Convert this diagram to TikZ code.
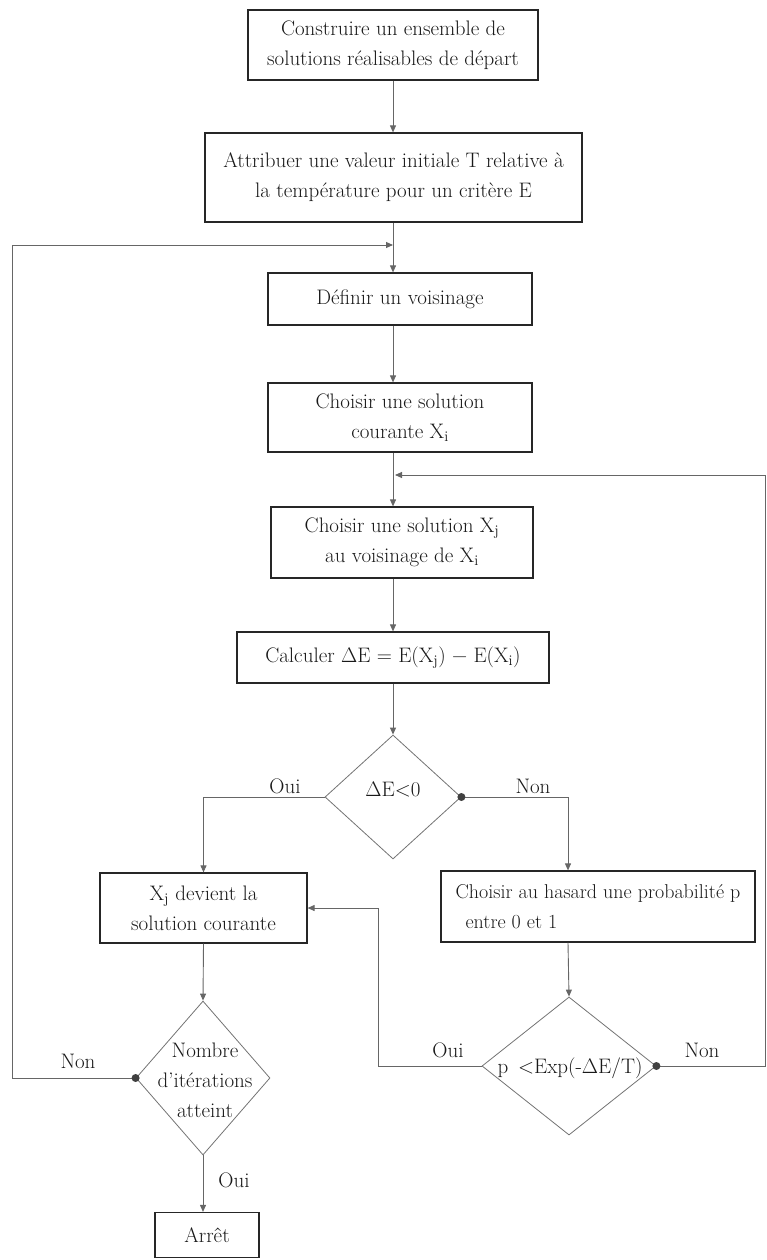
\documentclass[tikz,border=0pt]{standalone}
\usepackage{fontspec}
\usetikzlibrary{arrows.meta,shapes.geometric}
\begin{document}
\begin{tikzpicture}[x=1pt,y=-1pt,
  txt/.style={inner sep=0pt,align=center,
    font=\fontsize{21}{30}\selectfont,text=black!90},
  box/.style={txt,draw=black!85,line width=1.2pt},
  dec/.style={shape=diamond,draw=black!55,line width=0.8pt,inner sep=0pt},
  link/.style={draw=black!60,line width=0.9pt},
  arr/.style={link,-{Triangle[length=7pt,width=6pt]}},
  lab/.style={txt},
  dot/.style={fill=black!75}
]
\useasboundingbox (0,0) rectangle (767,1260);

% vertical axis of the main sequence
\coordinate (axis) at (393,0);

% process boxes
\node[box,minimum width=290pt,minimum height=70pt] (b1) at (393,45)
  {Construire un ensemble de\\solutions réalisables de départ};
\node[box,minimum width=377pt,minimum height=89pt] (b2) at (393.5,177.5)
  {Attribuer une valeur initiale T relative à\\la température pour un critère E};
\node[box,minimum width=264pt,minimum height=52pt] (b3) at (400,299)
  {Définir un voisinage};
\node[box,minimum width=264pt,minimum height=69pt] (b4) at (400,417.5)
  {Choisir une solution\\courante X\textsubscript{i}};
\node[box,minimum width=262pt,minimum height=71pt] (b5) at (402,542.5)
  {Choisir une solution X\textsubscript{j}\\au voisinage de X\textsubscript{i}};
\node[box,minimum width=312pt,minimum height=51pt] (b6) at (393,657.5)
  {Calculer ΔE = E(X\textsubscript{j}) − E(X\textsubscript{i})};
\node[box,minimum width=207pt,minimum height=70pt] (b7) at (203.5,908)
  {X\textsubscript{j} devient la\\solution courante};
\node[box,minimum width=314pt,minimum height=71pt,align=left,
      font=\fontsize{20}{30}\selectfont] (b8) at (598,906.5)
  {Choisir au hasard une probabilité p\\\hspace*{10pt}entre 0 et 1};
\node[box,minimum width=104pt,minimum height=45pt] (b9) at (207,1235)
  {Arrêt};

% decisions
\node[dec,minimum width=136pt,minimum height=124pt] (d1) at (393,797) {};
\node[txt] (t1) at (393,789) {ΔE<0};
\node[dec,minimum width=134pt,minimum height=154pt] (d2) at (203,1078) {};
\node[txt] (t2) at (205,1080) {Nombre\\d'itérations\\atteint};
\node[dec,minimum width=174pt,minimum height=138pt] (d3) at (569,1066) {};
\node[txt] (t3) at (570,1068) {p \,<Exp(-ΔE/T)};

% routing points
\coordinate (loopL) at (12,245);
\coordinate (j1) at (393,245);
\coordinate (loopR) at (765,475);
\coordinate (j2) at (395,475);
\coordinate (xr) at (568,0);
\coordinate (xm) at (378,0);

% main sequence
\draw[arr] (b1.south -| axis) -- (b2.north -| axis);
\draw[arr] (b2.south -| axis) -- (b3.north -| axis);
\draw[arr] (b3.south -| axis) -- (b4.north -| axis);
\draw[arr] (b4.south -| axis) -- (b5.north -| axis);
\draw[arr] (b5.south -| axis) -- (b6.north -| axis);
\draw[arr] (b6.south -| axis) -- (d1.north);

% first decision
\draw[arr] (d1.west) -| (b7.north);
\draw[arr] (d1.east) -| (b8.north -| xr);
\fill[dot] (d1.east) circle (4pt);
\node[lab] (l1) at (285,786) {Oui};
\node[lab] (l2) at (533,786) {Non};

% probability branch
\draw[arr] (b8.south -| xr) -- (d3.north);
\draw[arr] (d3.west) -- (d3.west -| xm) |- (b7.east);
\draw[arr] (d3.east) -- (d3.east -| loopR) -- (loopR) -- (j2);
\fill[dot] (d3.east) circle (4pt);
\node[lab] (l3) at (448,1050) {Oui};
\node[lab] (l4) at (702,1050) {Non};

% iteration test
\draw[arr] (b7.south) -- (d2.north);
\draw[arr] (d2.west) -- (d2.west -| loopL) -- (loopL) -- (j1);
\fill[dot] (d2.west) circle (4pt);
\draw[arr] (d2.south) -- (b9.north -| d2.south);
\node[lab] (l5) at (78,1061) {Non};
\node[lab] (l6) at (234,1180) {Oui};
\end{tikzpicture}
\end{document}
